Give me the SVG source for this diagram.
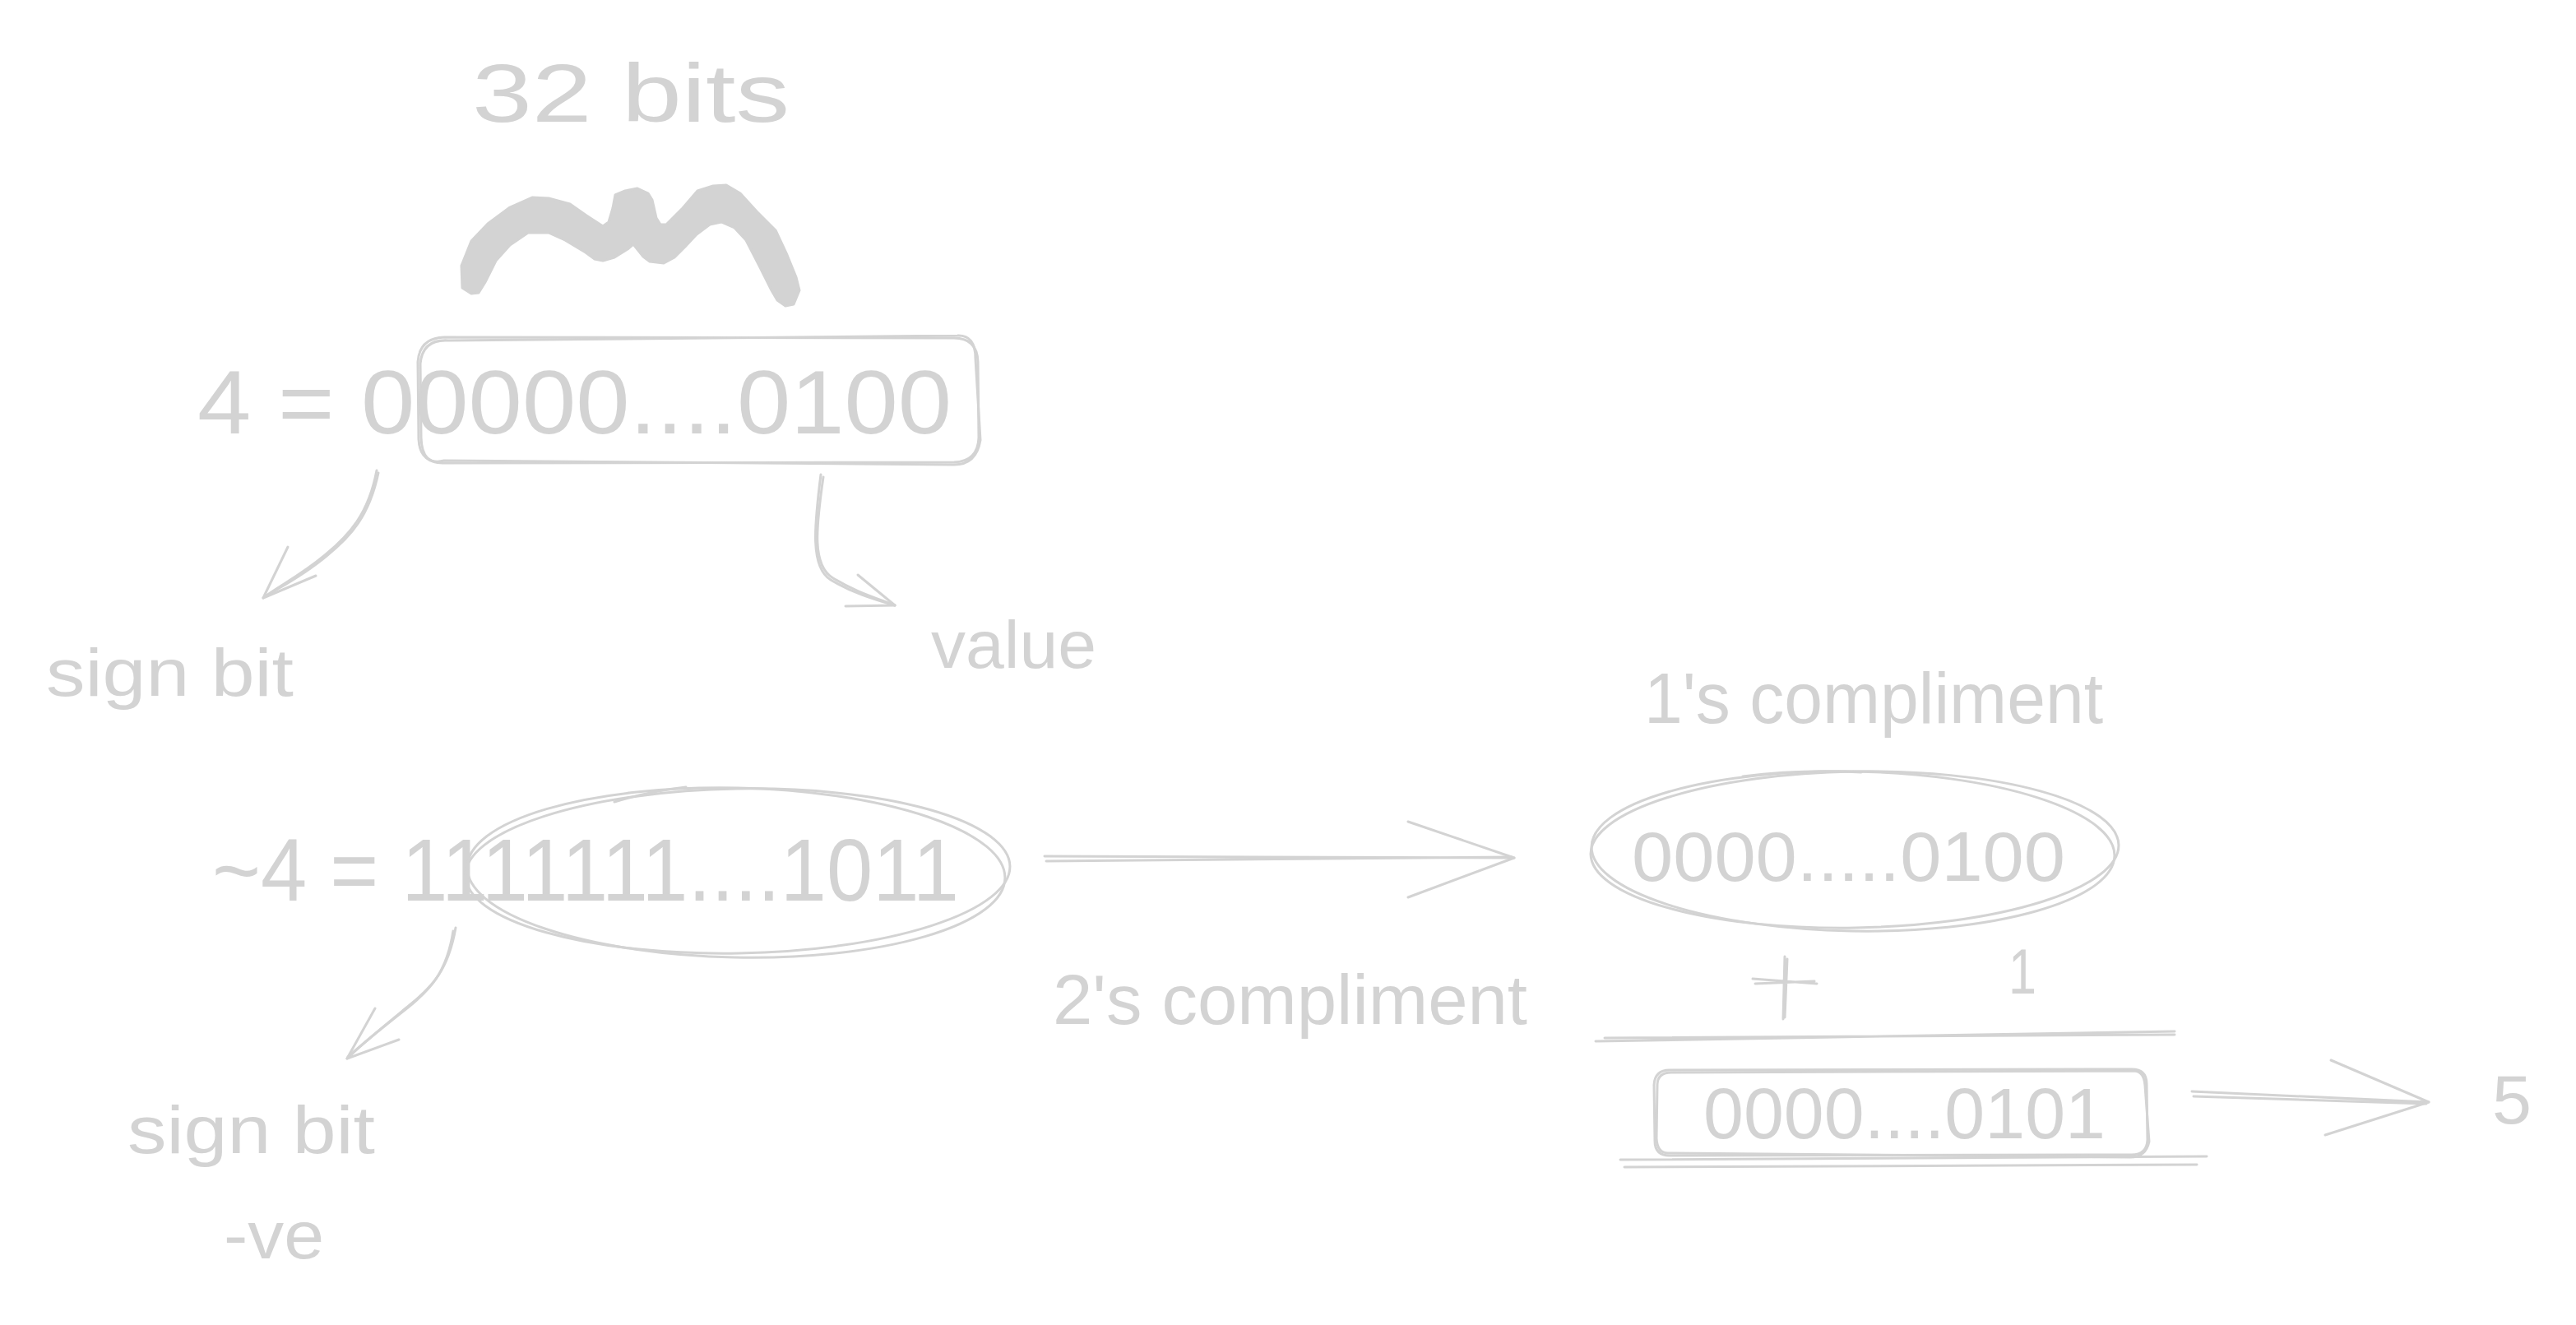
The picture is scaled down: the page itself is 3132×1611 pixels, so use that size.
<svg xmlns="http://www.w3.org/2000/svg" width="3132" height="1611" viewBox="0 0 3132 1611">
<style>
.t{font-family:"Liberation Sans","DejaVu Sans",sans-serif;fill:#d3d3d3;}
.s{fill:none;stroke:#d3d3d3;stroke-width:3;stroke-linecap:round;stroke-linejoin:round;}
</style>
<rect width="3132" height="1611" fill="#ffffff"/>
<g id="label-32bits">
<text class="t" x="574" y="148" font-size="100" textLength="386" lengthAdjust="spacingAndGlyphs">32 bits</text>
</g>
<g id="brace">
<path fill="#d3d3d3" stroke="#d3d3d3" stroke-width="3" stroke-linejoin="round" d="M573,357 L562,350 L561,323 L573,293 L593,272 L620,252 L647,240 L667,241 L693,248 L713,262 L733,275 L740,270 L745,253 L748,237 L760,232 L775,229 L788,235 L793,243 L798,265 L803,273 L810,273 L830,253 L848,232 L867,226 L883,225 L900,235 L920,257 L943,280 L957,310 L968,337 L972,353 L965,370 L955,372 L945,365 L938,353 L923,323 L907,292 L893,277 L877,270 L863,273 L847,285 L833,300 L820,313 L807,320 L790,318 L782,312 L770,297 L763,303 L747,313 L733,317 L723,315 L712,307 L687,292 L667,283 L642,283 L620,298 L603,317 L590,343 L582,356 Z"/>
</g>
<g id="value-4">
<text class="t" x="240" y="527" font-size="110" textLength="917" lengthAdjust="spacingAndGlyphs">4 = 00000....0100</text>
<path class="s" d="M540,410 L1160,411 Q1188,411 1189,440 L1190,532 Q1189,561 1160,562 L538,563 Q510,562 509,534 L508,440 Q510,411 540,410 Z"/>
<path class="s" d="M545,414 L1164,408 Q1186,407 1186,436 L1192,535 Q1187,566 1158,565 L540,560 Q513,567 512,532 L511,442 Q514,412 545,414 Z"/>
</g>
<g id="sign-bit-1">
<text class="t" x="56" y="846" font-size="82" textLength="301" lengthAdjust="spacingAndGlyphs">sign bit</text>
</g>
<g id="value-label">
<text class="t" x="1132" y="812" font-size="82" textLength="201" lengthAdjust="spacingAndGlyphs">value</text>
</g>
<g id="not-4">
<text class="t" x="258" y="1095" font-size="108" textLength="908" lengthAdjust="spacingAndGlyphs">~4 = 1111111....1011</text>
<ellipse class="s" cx="897" cy="1059" rx="331" ry="100" transform="rotate(-1 897 1059)"/>
<ellipse class="s" cx="895" cy="1061" rx="327" ry="103" transform="rotate(1.2 895 1061)"/>
<path class="s" d="M747,975 Q790,962 834,957"/>
</g>
<g id="sign-bit-2">
<text class="t" x="155" y="1402" font-size="82" textLength="301" lengthAdjust="spacingAndGlyphs">sign bit</text>
<text class="t" x="272" y="1530" font-size="82" textLength="122" lengthAdjust="spacingAndGlyphs">-ve</text>
</g>
<g id="ones-compliment">
<text class="t" x="1999" y="879" font-size="88" textLength="558" lengthAdjust="spacingAndGlyphs">1's compliment</text>
<text class="t" x="1984" y="1071" font-size="86" textLength="527" lengthAdjust="spacingAndGlyphs">0000.....0100</text>
<ellipse class="s" cx="2255" cy="1033" rx="321" ry="95" transform="rotate(-1 2255 1033)"/>
<ellipse class="s" cx="2253" cy="1035" rx="318" ry="97" transform="rotate(1 2253 1035)"/>
<path class="s" d="M2119,944 Q2190,935 2263,939"/>
</g>
<g id="twos-compliment">
<text class="t" x="1280" y="1245" font-size="86" textLength="577" lengthAdjust="spacingAndGlyphs">2's compliment</text>
</g>
<g id="plus-one">
<path class="s" d="M2170,1163 L2168,1239 M2173,1166 L2170,1237 M2131,1190 L2209,1196 M2134,1196 L2206,1193"/>
<text class="t" x="2442" y="1208" font-size="78" textLength="34" lengthAdjust="spacingAndGlyphs">1</text>
<path class="s" d="M1940,1266 L2644,1254 M1951,1262 L2644,1258"/>
</g>
<g id="result">
<text class="t" x="2071" y="1384" font-size="88" textLength="489" lengthAdjust="spacingAndGlyphs">0000....0101</text>
<path class="s" d="M2030,1301 L2592,1300 Q2610,1300 2610,1318 L2611,1386 Q2610,1404 2592,1404 L2030,1405 Q2012,1405 2012,1387 L2011,1319 Q2012,1301 2030,1301 Z"/>
<path class="s" d="M2034,1304 L2595,1302 Q2607,1303 2608,1320 L2613,1388 Q2609,1407 2590,1407 L2028,1402 Q2015,1402 2014,1384 L2015,1318 Q2016,1303 2034,1304 Z"/>
<path class="s" d="M1970,1410 L2683,1406 M1975,1419 L2671,1416"/>
</g>
<g id="five">
<text class="t" x="3030" y="1366" font-size="84" textLength="48" lengthAdjust="spacingAndGlyphs">5</text>
</g>
<g id="connectors">
<path class="s" d="M458,572 C448,625 425,650 395,675 C365,700 340,712 320,727"/>
<path class="s" d="M460,575 C449,627 427,652 397,676 C367,701 342,713 321,726"/>
<path class="s" d="M320,727 L350,665 M320,727 L384,700"/>
<path class="s" d="M998,577 C990,640 985,690 1010,705 C1035,720 1060,728 1088,736"/>
<path class="s" d="M1001,580 C992,642 987,688 1013,703 C1037,718 1062,726 1088,736"/>
<path class="s" d="M1088,736 L1043,699 M1088,736 L1028,737"/>
<path class="s" d="M554,1128 C545,1180 525,1200 498,1222 C470,1245 445,1265 422,1287"/>
<path class="s" d="M551,1132 C543,1183 523,1203 496,1225 C468,1247 443,1267 423,1285"/>
<path class="s" d="M422,1287 L456,1226 M422,1287 L485,1264"/>
<path class="s" d="M1270,1041 L1841,1043 M1272,1047 L1838,1042"/>
<path class="s" d="M1841,1043 L1712,999 M1841,1043 L1712,1091"/>
<path class="s" d="M2665,1327 L2953,1340 M2667,1333 L2950,1342"/>
<path class="s" d="M2953,1340 L2834,1289 M2953,1340 L2827,1380"/>
</g>
</svg>
